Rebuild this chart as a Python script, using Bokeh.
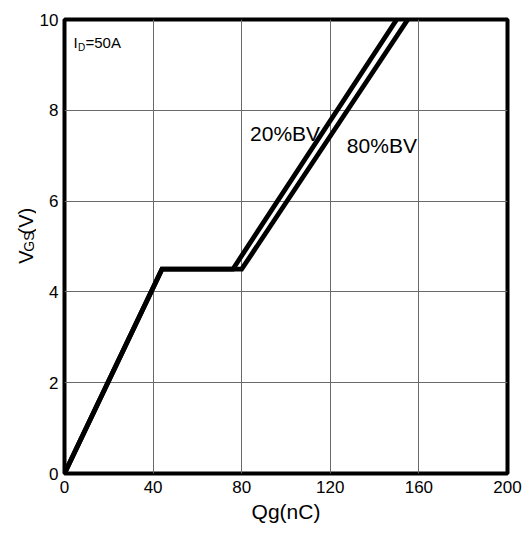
import math
from bokeh.plotting import figure
from bokeh.models import Label, FixedTicker, Range1d
from bokeh.layouts import column, row
from bokeh.core.properties import value
from bokeh.embed import file_html
from bokeh.resources import INLINE

# ---- data ----
qg_20 = [0, 44, 76, 150]        # nC, 20%BV curve
vgs_20 = [0, 4.5, 4.5, 10]      # V
qg_80 = [0, 44, 80, 155]        # nC, 80%BV curve
vgs_80 = [0, 4.5, 4.5, 10]      # V
x_ticks = [0, 40, 80, 120, 160, 200]
y_ticks = [0, 2, 4, 6, 8, 10]

FONT = "Liberation Sans"
W, H = 531, 533
TOP_H = 5        # strip holding the cut title
LEFT_W = 36      # strip holding the rotated y label
L, R, T, B = 63, 507, 19, 473   # frame edges in page px
ROT_FIX = 21     # observed vertical shift of the rotated strip texts


def bare(fig):
    fig.axis.visible = False
    fig.grid.visible = False
    fig.outline_line_color = None
    fig.background_fill_color = "white"
    fig.border_fill_color = "white"


# ---- top strip: title cut off by the page edge ----
top = figure(width=W, height=TOP_H, output_backend="svg", toolbar_location=None,
             x_range=Range1d(0, W), y_range=Range1d(0, TOP_H),
             min_border=0)
bare(top)
top.text(x=[36.5], y=[TOP_H - 3.5], text=["Figure 11. Total Gate Charge"],
         text_font=value(FONT), text_font_size="20px", text_color="black",
         text_align="left", text_baseline="bottom")

# ---- left strip: rotated V_GS(V) ----
MH = H - TOP_H
left = figure(width=LEFT_W, height=MH, output_backend="svg", toolbar_location=None,
              x_range=Range1d(0, LEFT_W), y_range=Range1d(0, MH),
              min_border=0)
bare(left)


def rot(text, xpx, ypx, size):
    left.text(x=[xpx], y=[H - ypx - ROT_FIX], text=[text], angle=math.pi / 2,
              text_font=value(FONT), text_font_size=f"{size}px",
              text_color="black", text_align="left",
              text_baseline="alphabetic")


rot("V", 25.5, 268, 20)
rot("GS", 28, 254, 14)
rot("(V)", 25.5, 234, 20)

# ---- main chart ----
p = figure(width=W - LEFT_W, height=MH, output_backend="svg",
           toolbar_location=None,
           x_range=Range1d(0, 200), y_range=Range1d(0, 10),
           min_border_left=L - LEFT_W, min_border_right=W - R,
           min_border_top=T - TOP_H, min_border_bottom=H - B)
p.background_fill_color = "white"
p.border_fill_color = "white"
p.outline_line_color = "black"
p.outline_line_width = 4


def dx(px):
    return (px - L) / (R - L) * 200.0


def dy(py):
    return (B - py) / (B - T) * 10.0


for ax in (p.xaxis[0], p.yaxis[0]):
    ax.axis_line_color = None
    ax.major_tick_line_color = None
    ax.minor_tick_line_color = None
    ax.major_tick_in = 0
    ax.major_tick_out = 0
    ax.major_label_text_font = FONT
    ax.major_label_text_font_size = "17px"
    ax.major_label_text_color = "black"

p.xaxis.ticker = FixedTicker(ticks=x_ticks)
p.yaxis.ticker = FixedTicker(ticks=y_ticks)
p.xaxis.major_label_standoff = 7
p.yaxis.major_label_standoff = 6
p.xaxis.axis_label = "Qg(nC)"
p.xaxis.axis_label_text_font = FONT
p.xaxis.axis_label_text_font_size = "21px"
p.xaxis.axis_label_text_font_style = "normal"
p.xaxis.axis_label_text_color = "black"
p.xaxis.axis_label_standoff = 4

p.xgrid.ticker = FixedTicker(ticks=x_ticks)
p.ygrid.ticker = FixedTicker(ticks=y_ticks)
for g in (p.xgrid[0], p.ygrid[0]):
    g.grid_line_color = "#6a6a6a"
    g.grid_line_width = 1
    g.grid_line_alpha = 1.0

p.line(qg_20, vgs_20, line_color="black", line_width=4.8, line_join="miter")
p.line(qg_80, vgs_80, line_color="black", line_width=4.8, line_join="miter")


def lab(text, xpx, ypx, size):
    p.add_layout(Label(x=dx(xpx), y=dy(ypx), text=text,
                       text_font=FONT, text_font_size=f"{size}px",
                       text_color="black", text_align="left",
                       text_baseline="alphabetic"))


lab("20%BV", 249, 133, 21)
lab("80%BV", 346, 145, 21)
lab("I", 72, 42, 15)
lab("D", 76.5, 47, 10)
lab("=50A", 84, 42, 15)

layout = column(top, row(left, p, spacing=0), spacing=0)
open("out.html", "w").write(file_html(layout, INLINE))
